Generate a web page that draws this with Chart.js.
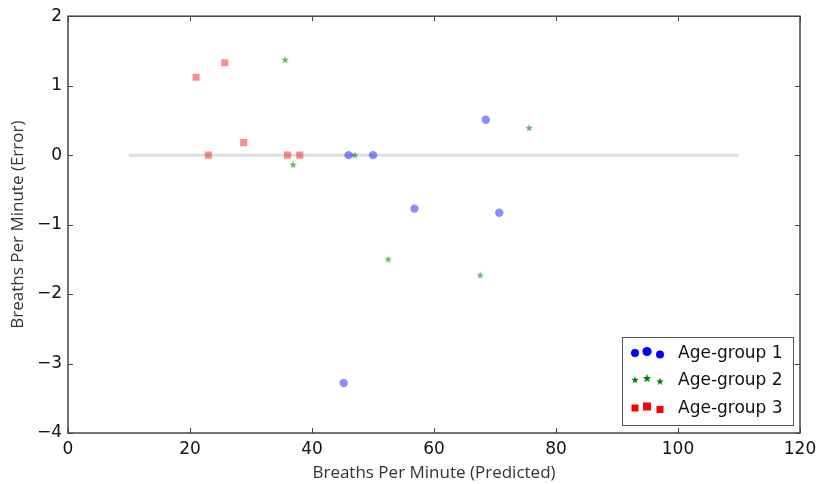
<!DOCTYPE html>
<html>
<head>
<meta charset="utf-8">
<script src="https://cdn.jsdelivr.net/npm/chart.js@4/dist/chart.umd.min.js"></script>
<style>
  html, body { margin: 0; padding: 0; background: #fff; }
  #wrap { width: 818px; height: 484px; }
</style>
</head>
<body>
<div id="wrap"><canvas id="chart" width="818" height="484"></canvas></div>
<script>
// ── Data ──
const group1X = [46, 50, 56.8, 68.5, 70.7, 45.2];
const group1Y = [0, 0, -0.77, 0.51, -0.83, -3.28];
const group2X = [35.6, 36.9, 47, 75.6, 52.5, 67.6];
const group2Y = [1.37, -0.14, 0, 0.39, -1.5, -1.73];
const group3X = [21, 25.7, 28.8, 23, 36, 38];
const group3Y = [1.12, 1.33, 0.18, 0, 0, 0];
const zeroLineX = [10, 110];
const zeroLineY = [0, 0];
const legendLabels = ['Age-group 1', 'Age-group 2', 'Age-group 3'];

const FONT = "'DejaVu Sans', sans-serif";
const TITLE_FONT = "'Open Sans', sans-serif";

function pts(xs, ys) { return xs.map((x, i) => ({ x, y: ys[i] })); }

// filled 5-point star like matplotlib's '*'
function starCanvas(size, color) {
  const c = document.createElement('canvas');
  c.width = size; c.height = size;
  const g = c.getContext('2d');
  const cx = size / 2, cy = size / 2, ro = size / 2, ri = ro * 0.42;
  g.beginPath();
  for (let i = 0; i < 10; i++) {
    const r = i % 2 ? ri : ro;
    const a = -Math.PI / 2 + i * Math.PI / 5;
    g.lineTo(cx + r * Math.cos(a), cy + r * Math.sin(a));
  }
  g.closePath();
  g.fillStyle = color;
  g.fill();
  return c;
}

const starFaded = starCanvas(8, 'rgba(0,128,0,0.6)');

// frame + inward ticks on all four sides
const framePlugin = {
  id: 'frame',
  afterDatasetsDraw(chart) {
    const { ctx, chartArea: a, scales } = chart;
    ctx.save();
    ctx.strokeStyle = '#444';
    ctx.lineWidth = 1.5;
    ctx.strokeRect(a.left, a.top, a.right - a.left, a.bottom - a.top);
    ctx.lineWidth = 1;
    const tl = 5;
    ctx.beginPath();
    scales.x.ticks.forEach(t => {
      const px = Math.round(scales.x.getPixelForValue(t.value)) + 0.5;
      ctx.moveTo(px, a.bottom); ctx.lineTo(px, a.bottom - tl);
      ctx.moveTo(px, a.top); ctx.lineTo(px, a.top + tl);
    });
    scales.y.ticks.forEach(t => {
      const py = Math.round(scales.y.getPixelForValue(t.value)) + 0.5;
      ctx.moveTo(a.left, py); ctx.lineTo(a.left + tl, py);
      ctx.moveTo(a.right, py); ctx.lineTo(a.right - tl, py);
    });
    ctx.stroke();
    ctx.restore();
  }
};

// matplotlib-style legend box, lower right, three markers per entry
const legendPlugin = {
  id: 'mplLegend',
  afterDraw(chart) {
    const { ctx, chartArea: a } = chart;
    const bx = a.right - 178, by = a.bottom - 96, bw = 171, bh = 88;
    ctx.save();
    ctx.fillStyle = '#fff';
    ctx.fillRect(bx, by, bw, bh);
    ctx.strokeStyle = '#555';
    ctx.lineWidth = 1;
    ctx.strokeRect(bx + 0.5, by + 0.5, bw, bh);

    const rowY = [by + 16, by + 43, by + 71];
    const mx = [bx + 13, bx + 25, bx + 38];
    const dy = [0, -1.5, 1.5];
    const sz = [1, 1.15, 1];

    // row 1: circles
    ctx.fillStyle = '#0000ff';
    mx.forEach((x, i) => {
      ctx.beginPath();
      ctx.arc(x, rowY[0] + dy[i], 4 * sz[i], 0, Math.PI * 2);
      ctx.fill();
    });
    // row 2: stars
    mx.forEach((x, i) => {
      const s = Math.round(8 * sz[i]);
      ctx.drawImage(starCanvas(s, '#008000'), x - s / 2, rowY[1] + dy[i] - s / 2);
    });
    // row 3: squares
    ctx.fillStyle = '#ff0000';
    mx.forEach((x, i) => {
      const s = 7 * sz[i];
      ctx.fillRect(x - s / 2, rowY[2] + dy[i] - s / 2, s, s);
    });

    ctx.fillStyle = '#111';
    ctx.font = '17px ' + FONT;
    ctx.textBaseline = 'middle';
    legendLabels.forEach((lab, i) => ctx.fillText(lab, bx + 56, rowY[i] + 1));
    ctx.restore();
  }
};

new Chart(document.getElementById('chart'), {
  type: 'scatter',
  data: {
    datasets: [
      {
        label: 'zero',
        data: pts(zeroLineX, zeroLineY),
        showLine: true,
        borderColor: 'rgba(200,200,200,0.6)',
        borderWidth: 3,
        pointRadius: 0,
        order: 5,
      },
      {
        label: legendLabels[0],
        data: pts(group1X, group1Y),
        pointStyle: 'circle',
        pointRadius: 4.2,
        backgroundColor: 'rgba(0,0,255,0.45)',
        borderColor: 'rgba(0,0,255,0.45)',
        borderWidth: 0,
      },
      {
        label: legendLabels[1],
        data: pts(group2X, group2Y),
        pointStyle: starFaded,
        pointRadius: 4,
      },
      {
        label: legendLabels[2],
        data: pts(group3X, group3Y),
        pointStyle: 'rect',
        pointRadius: 5,
        backgroundColor: 'rgba(255,0,0,0.45)',
        borderColor: 'rgba(255,0,0,0.45)',
        borderWidth: 0,
      },
    ]
  },
  options: {
    responsive: false,
    animation: false,
    layout: { padding: { top: 16, right: 18, left: 0, bottom: 0 } },
    plugins: { legend: { display: false }, tooltip: { enabled: false } },
    scales: {
      x: {
        type: 'linear',
        min: 0, max: 120,
        grid: { display: false, drawTicks: false },
        border: { display: false },
        afterFit(s) { s.height = 51; s.paddingRight = 0; s.paddingLeft = 0; },
        ticks: { stepSize: 20, padding: 6, color: '#111', font: { family: FONT, size: 17 } },
        title: { display: true, text: 'Breaths Per Minute (Predicted)', color: '#333',
                 font: { family: TITLE_FONT, size: 17 }, padding: { top: 0, bottom: 1 } },
      },
      y: {
        type: 'linear',
        min: -4, max: 2,
        grid: { display: false, drawTicks: false },
        border: { display: false },
        afterFit(s) { s.width = 68; },
        ticks: {
          stepSize: 1, padding: 6, color: '#111', font: { family: FONT, size: 17 },
          callback: v => (v < 0 ? '\u2212' + Math.abs(v) : String(v)),
        },
        title: { display: true, text: 'Breaths Per Minute (Error)', color: '#333',
                 font: { family: TITLE_FONT, size: 17 }, padding: { top: 8, bottom: 0 } },
      },
    },
  },
  plugins: [framePlugin, legendPlugin],
});
</script>
</body>
</html>
